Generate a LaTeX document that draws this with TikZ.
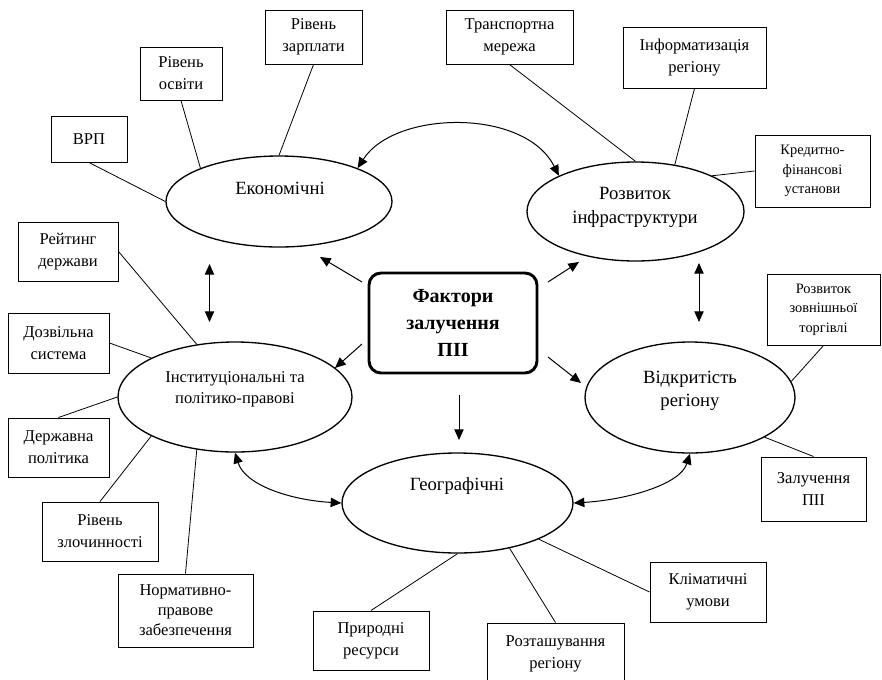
\documentclass[tikz,border=0pt]{standalone}
\usepackage{fontspec}
\setmainfont{Liberation Serif}
\usetikzlibrary{shapes.geometric,arrows.meta}
\begin{document}
\begin{tikzpicture}[x=0.75pt,y=-0.75pt,
  bx/.style={draw, line width=0.75pt, rectangle, inner sep=0pt, align=center, font=\fontsize{12.4}{16.5}\selectfont},
  sbx/.style={bx, font=\fontsize{10.8}{14.5}\selectfont},
  ell/.style={draw, ellipse, line width=1pt, inner sep=0pt},
  etxt/.style={align=center, inner sep=0pt, font=\fontsize{14}{17.5}\selectfont},
  ln/.style={line width=0.6pt},
  arr/.style={line width=0.75pt, -{Triangle[length=8pt,width=7pt]}},
  darr/.style={line width=0.75pt, {Triangle[length=8pt,width=7pt]}-{Triangle[length=8pt,width=7pt]}}]
\useasboundingbox (0,0) rectangle (882,679);
\fill[white] (0,0) rectangle (882,679);

% boxes
\node[bx, minimum width=57pt, minimum height=34.5pt] (vrp) at (89,139) {ВРП};
\node[bx, minimum width=61.5pt, minimum height=39.75pt] (osv) at (181,73.5) {Рівень\\освіти};
\node[bx, minimum width=72.75pt, minimum height=40.5pt] (zarp) at (313.5,37) {Рівень\\зарплати};
\node[bx, minimum width=95.25pt, minimum height=40.5pt] (trans) at (509.5,37) {Транспортна\\мережа};
\node[bx, minimum width=107.25pt, minimum height=45.75pt] (inform) at (694.5,57.5) {Інформатизація\\регіону};
\node[sbx, minimum width=86.25pt, minimum height=54pt] (kred) at (812.5,171) {Кредитно-\\фінансові\\установи};
\node[sbx, minimum width=84.75pt, minimum height=53.25pt] (zovn) at (823.5,309.5) {Розвиток\\зовнішньої\\торгівлі};
\node[bx, minimum width=78.75pt, minimum height=48pt] (zal) at (813.5,489) {Залучення\\ПІІ};
\node[bx, minimum width=87pt, minimum height=45pt] (klim) at (708,592) {Кліматичні\\умови};
\node[bx, minimum width=102.75pt, minimum height=45.75pt] (rozt) at (555.5,653.5) {Розташування\\регіону};
\node[bx, minimum width=87pt, minimum height=44.25pt] (prir) at (371,640.5) {Природні\\ресурси};
\node[bx, minimum width=101.25pt, minimum height=54.75pt, font=\fontsize{12.4}{15}\selectfont] (norm) at (185.5,610.5) {Нормативно-\\правове\\забезпечення};
\node[bx, minimum width=87pt, minimum height=44.25pt] (zloch) at (100,531.5) {Рівень\\злочинності};
\node[bx, minimum width=75.75pt, minimum height=44.25pt] (derzh) at (58.5,447.5) {Державна\\політика};
\node[bx, minimum width=75.75pt, minimum height=45pt] (dozv) at (58.5,343) {Дозвільна\\система};
\node[bx, minimum width=75pt, minimum height=44.25pt] (reit) at (68,251.5) {Рейтинг\\держави};

% ellipses
\node[ell, minimum width=169.5pt, minimum height=68.25pt] (ek) at (279,201.5) {};
\node[ell, minimum width=162.75pt, minimum height=74.25pt] (inf) at (635.5,211.5) {};
\node[ell, minimum width=175.5pt, minimum height=82.5pt] (inst) at (235,397) {};
\node[ell, minimum width=173.25pt, minimum height=75pt] (geo) at (457.5,503) {};
\node[ell, minimum width=157.5pt, minimum height=83.25pt] (vidk) at (690,397.5) {};

\node[etxt] (ekT) at (280,188) {Економічні};
\node[etxt] (infT) at (635,207.5) {Розвиток\\інфраструктури};
\node[etxt, font=\fontsize{12.4}{16}\selectfont] (instT) at (235,389) {Інституціональні та\\політико-правові};
\node[etxt] (geoT) at (457,486) {Географічні};
\node[etxt] (vidkT) at (690,391) {Відкритість\\регіону};

% central
\node[draw, rounded corners=9pt, line width=2.2pt, minimum width=126pt, minimum height=75pt, inner sep=0pt, align=center,
  font=\bfseries\fontsize{15}{20}\selectfont] (cen) at (453,323) {Фактори\\залучення\\ПІІ};

% connecting lines
\draw[ln] (vrp.south) -- (ek.west);
\draw[ln] (osv.south) -- (ek.157);
\draw[ln] (zarp.south) -- (ek.north);
\draw[ln] (trans.south) -- (inf.north);
\draw[ln] (inform.south) -- (inf.50);
\draw[ln] (kred.west) -- (inf.25);
\draw[ln] (zovn.south) -- (vidk.9);
\draw[ln] (zal.north) -- (vidk.332);
\draw[ln] (klim.west) -- (geo.336);
\draw[ln] (rozt.north) -- (geo.319);
\draw[ln] (prir.north) -- (geo.south);
\draw[ln] (norm.north) -- (inst.234);
\draw[ln] (zloch.north) -- (inst.205);
\draw[ln] (derzh.north) -- (inst.west);
\draw[ln] (dozv.east) -- (inst.155);
\draw[ln] (reit.east) -- (inst.126);

% arrows from centre
\coordinate (a1s) at (362,282); \coordinate (a1e) at (320,257);
\coordinate (a2s) at (548,282); \coordinate (a2e) at (579,262);
\coordinate (a3s) at (362,344); \coordinate (a3e) at (335,368);
\coordinate (a4s) at (548,357); \coordinate (a4e) at (581,383);
\coordinate (a5s) at (459,395); \coordinate (a5e) at (459,440);
\draw[arr] (a1s) -- (a1e);
\draw[arr] (a2s) -- (a2e);
\draw[arr] (a3s) -- (a3e);
\draw[arr] (a4s) -- (a4e);
\draw[arr] (a5s) -- (a5e);

% vertical double arrows
\coordinate (v1a) at (209.5,264); \coordinate (v1b) at (209.5,322);
\coordinate (v2a) at (699,263); \coordinate (v2b) at (699,322);
\draw[darr] (v1a) -- (v1b);
\draw[darr] (v2a) -- (v2b);

% curved double arrows
\draw[darr] (ek.23) .. controls (395,110) and (525,108) .. (inf.155);
\draw[darr] (inst.south) .. controls (245,485) and (290,500) .. (geo.west);
\draw[darr] (geo.east) .. controls (625,500) and (680,485) .. (vidk.south);
\end{tikzpicture}
\end{document}
